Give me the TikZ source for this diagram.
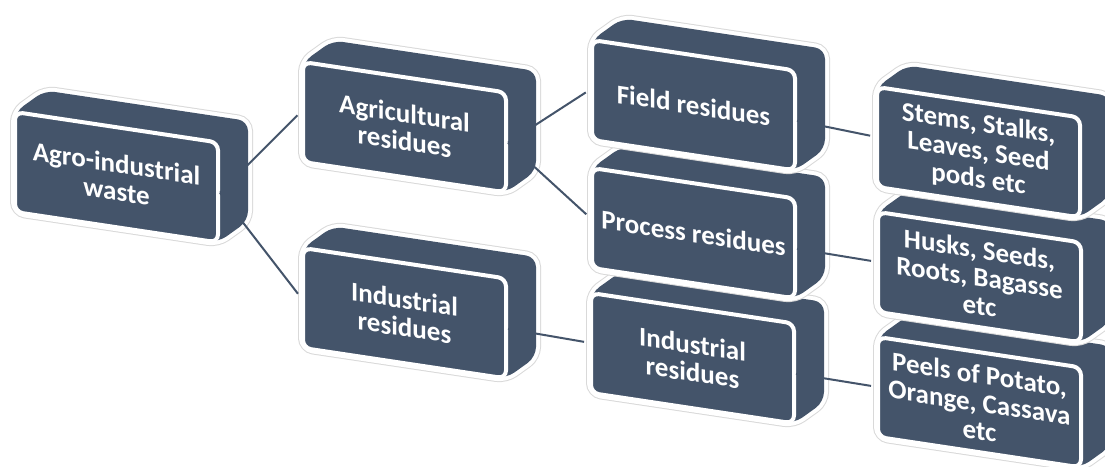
\documentclass[tikz,border=0pt]{standalone}
\usepackage{fontspec}
\setmainfont{Carlito}
\usepackage{tikz}
\definecolor{slate}{HTML}{44546A}
\tikzset{
  block shell/.style={preaction={draw=gray!30, line width=10pt},
    preaction={draw=white, line width=8pt}, fill=slate, rounded corners=10pt},
  block front/.style={rectangle, rounded corners=8pt, fill=slate, draw=white,
    line width=4pt, minimum width=203pt, minimum height=100pt, inner sep=0pt,
    text=white, align=center, font=\bfseries\fontsize{27}{28}\selectfont,
    transform shape},
  link/.style={draw=slate, line width=2pt, shorten >=5pt}
}
% one 3d block: name, top left x, top left y, text
\newcommand{\wasteblock}[4]{%
  \begin{scope}[shift={(#2,#3)}, yslant=-0.15]
    \path[block shell] (0,0) -- (30,-26) -- (233,-26) -- (233,74) -- (203,100) -- (0,100) -- cycle;
    \node[block front] (#1) at (101.5,50) {#4};
  \end{scope}}

\begin{document}
\begin{tikzpicture}[x=1pt, y=-1pt]
  \useasboundingbox (0,0) rectangle (1105,466);
  \clip (0,0) rectangle (1105,466);
  \fill[white] (0,0) rectangle (1105,466);
  % first level
  \wasteblock{agro}{15}{112}{Agro-industrial\\waste}
  % second level
  \wasteblock{indl}{303}{248}{Industrial\\residues}
  \wasteblock{agri}{303}{62}{Agricultural\\residues}
  % third level
  \wasteblock{indr}{591}{293}{Industrial\\residues}
  \wasteblock{process}{592}{168}{Process residues}
  \wasteblock{field}{592}{40}{Field residues}
  % fourth level
  \wasteblock{peels}{878}{337}{Peels of Potato,\\Orange, Cassava\\etc}
  \wasteblock{husks}{878}{212}{Husks, Seeds,\\Roots, Bagasse\\etc}
  \wasteblock{stems}{877}{87}{Stems, Stalks,\\Leaves, Seed\\pods etc}
  % connectors
  \draw[link] (agro.east) -- (agri.west);
  \draw[link] (agro.east) -- (indl.west);
  \draw[link] (agri.east) -- (field.west);
  \draw[link] (agri.east) -- (process.west);
  \draw[link] (indl.east) -- (indr.west);
  \draw[link] (field.east) -- (stems.west);
  \draw[link] (process.east) -- (husks.west);
  \draw[link] (indr.east) -- (peels.west);
\end{tikzpicture}
\end{document}
